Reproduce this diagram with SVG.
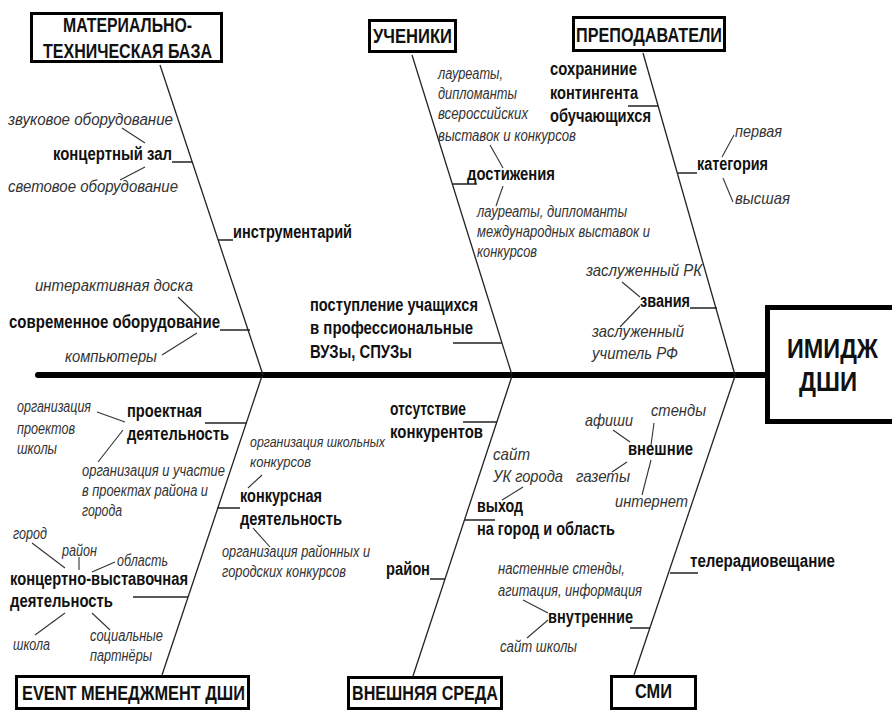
<svg xmlns="http://www.w3.org/2000/svg" width="892" height="711" viewBox="0 0 892 711">
<style>
text{font-family:"Liberation Sans",Arial,sans-serif;fill:#111}
.title{font-weight:bold;font-size:20px}
.head{font-weight:bold;font-size:28px}
.b{font-weight:bold;font-size:18px}
.i{font-style:italic;font-size:16px;fill:#333}
.is{font-style:italic;font-size:14.5px;fill:#333}
.il{font-style:italic;font-size:17px;fill:#333}
.box{fill:#fff;stroke:#000;stroke-width:3}
.hbox{fill:#fff;stroke:#000;stroke-width:5}
.bone{stroke:#222;stroke-width:1.3;fill:none}
.tick{stroke:#222;stroke-width:1.5}
.leaf{stroke:#333;stroke-width:1.1}
.spine{stroke:#000;stroke-width:6;stroke-linecap:round}
</style>
<rect width="892" height="711" fill="#fff"/>
<g id="connectors">
<line class="spine" x1="38" y1="375" x2="768" y2="375"/>
<line class="bone" x1="160" y1="65" x2="263" y2="375"/>
<line class="bone" x1="412" y1="55" x2="512" y2="375"/>
<line class="bone" x1="643" y1="53" x2="735" y2="375"/>
<line class="bone" x1="262" y1="376" x2="162" y2="675"/>
<line class="bone" x1="512" y1="376" x2="413" y2="676"/>
<line class="bone" x1="735" y1="376" x2="634" y2="675"/>
<line class="tick" x1="172" y1="162" x2="192" y2="162"/>
<line class="tick" x1="218" y1="240" x2="233" y2="240"/>
<line class="tick" x1="220" y1="330" x2="250" y2="330"/>
<line class="tick" x1="453" y1="184" x2="477" y2="184"/>
<line class="tick" x1="453" y1="343" x2="502" y2="343"/>
<line class="tick" x1="628" y1="106" x2="658" y2="106"/>
<line class="tick" x1="678" y1="173" x2="697" y2="173"/>
<line class="tick" x1="690" y1="308" x2="717" y2="308"/>
<line class="tick" x1="205" y1="423" x2="247" y2="423"/>
<line class="tick" x1="217" y1="508" x2="240" y2="508"/>
<line class="tick" x1="133" y1="597" x2="188" y2="597"/>
<line class="tick" x1="463" y1="422" x2="497" y2="422"/>
<line class="tick" x1="465" y1="520" x2="495" y2="520"/>
<line class="tick" x1="430" y1="579" x2="445" y2="579"/>
<line class="tick" x1="670" y1="573" x2="698" y2="573"/>
<line class="tick" x1="630" y1="628" x2="650" y2="628"/>
<line class="leaf" x1="122" y1="128" x2="145" y2="143"/>
<line class="leaf" x1="145" y1="167" x2="120" y2="180"/>
<line class="leaf" x1="178" y1="297" x2="200" y2="318"/>
<line class="leaf" x1="197" y1="333" x2="162" y2="355"/>
<line class="leaf" x1="490" y1="145" x2="503" y2="168"/>
<line class="leaf" x1="503" y1="186" x2="496" y2="206"/>
<line class="leaf" x1="734" y1="135" x2="722" y2="157"/>
<line class="leaf" x1="723" y1="178" x2="733" y2="202"/>
<line class="leaf" x1="622" y1="282" x2="640" y2="297"/>
<line class="leaf" x1="640" y1="306" x2="620" y2="327"/>
<line class="leaf" x1="97" y1="412" x2="125" y2="422"/>
<line class="leaf" x1="123" y1="430" x2="98" y2="462"/>
<line class="leaf" x1="262" y1="475" x2="248" y2="488"/>
<line class="leaf" x1="253" y1="528" x2="270" y2="547"/>
<line class="leaf" x1="32" y1="543" x2="65" y2="568"/>
<line class="leaf" x1="79" y1="557" x2="79" y2="570"/>
<line class="leaf" x1="115" y1="562" x2="92" y2="572"/>
<line class="leaf" x1="65" y1="613" x2="35" y2="635"/>
<line class="leaf" x1="92" y1="613" x2="110" y2="630"/>
<line class="leaf" x1="523" y1="487" x2="502" y2="500"/>
<line class="leaf" x1="613" y1="430" x2="630" y2="442"/>
<line class="leaf" x1="654" y1="423" x2="651" y2="445"/>
<line class="leaf" x1="627" y1="462" x2="612" y2="472"/>
<line class="leaf" x1="651" y1="460" x2="642" y2="495"/>
<line class="leaf" x1="523" y1="600" x2="548" y2="613"/>
<line class="leaf" x1="548" y1="620" x2="527" y2="638"/>
</g>
<g id="head">
<rect class="hbox" x="767.5" y="307.5" width="140" height="114"/>
<text class="head" x="787" y="358" textLength="91" lengthAdjust="spacingAndGlyphs">ИМИДЖ</text>
<text class="head" x="799" y="391" textLength="58" lengthAdjust="spacingAndGlyphs">ДШИ</text>
</g>
<g id="cat-mtb">
<rect class="box" x="31.5" y="13.5" width="190" height="48"/>
<text class="title" x="63" y="32" textLength="129" lengthAdjust="spacingAndGlyphs">МАТЕРИАЛЬНО-</text>
<text class="title" x="43" y="58" textLength="169" lengthAdjust="spacingAndGlyphs">ТЕХНИЧЕСКАЯ БАЗА</text>
</g>
<g id="cat-students">
<rect class="box" x="369.5" y="20.5" width="86" height="31"/>
<text class="title" x="373" y="43" textLength="79" lengthAdjust="spacingAndGlyphs">УЧЕНИКИ</text>
</g>
<g id="cat-teachers">
<rect class="box" x="573.5" y="17.5" width="151" height="33"/>
<text class="title" x="576" y="42" textLength="146" lengthAdjust="spacingAndGlyphs">ПРЕПОДАВАТЕЛИ</text>
</g>
<g id="cat-event">
<rect class="box" x="16.5" y="676.5" width="232" height="32"/>
<text class="title" x="22" y="700" textLength="223" lengthAdjust="spacingAndGlyphs">EVENT МЕНЕДЖМЕНТ ДШИ</text>
</g>
<g id="cat-env">
<rect class="box" x="348.5" y="677.5" width="153" height="31"/>
<text class="title" x="352" y="700" textLength="146" lengthAdjust="spacingAndGlyphs">ВНЕШНЯЯ СРЕДА</text>
</g>
<g id="cat-media">
<rect class="box" x="611.5" y="676.5" width="84" height="32"/>
<text class="title" x="635" y="698" textLength="37" lengthAdjust="spacingAndGlyphs">СМИ</text>
</g>
<g id="concert-hall">
<text class="b" x="53" y="160" textLength="119" lengthAdjust="spacingAndGlyphs">концертный зал</text>
<text class="i" x="8" y="125" textLength="165" lengthAdjust="spacingAndGlyphs">звуковое оборудование</text>
<text class="i" x="8" y="192" textLength="170" lengthAdjust="spacingAndGlyphs">световое оборудование</text>
</g>
<g id="instruments">
<text class="b" x="233" y="238" textLength="119" lengthAdjust="spacingAndGlyphs">инструментарий</text>
</g>
<g id="modern-equipment">
<text class="b" x="9" y="328" textLength="211" lengthAdjust="spacingAndGlyphs">современное оборудование</text>
<text class="i" x="35" y="291" textLength="158" lengthAdjust="spacingAndGlyphs">интерактивная доска</text>
<text class="i" x="65" y="362" textLength="92" lengthAdjust="spacingAndGlyphs">компьютеры</text>
</g>
<g id="achievements">
<text class="i" x="438" y="79" textLength="65" lengthAdjust="spacingAndGlyphs">лауреаты,</text>
<text class="i" x="438" y="99" textLength="79" lengthAdjust="spacingAndGlyphs">дипломанты</text>
<text class="i" x="438" y="119" textLength="90" lengthAdjust="spacingAndGlyphs">всероссийских</text>
<text class="i" x="438" y="141" textLength="138" lengthAdjust="spacingAndGlyphs">выставок и конкурсов</text>
<text class="b" x="467" y="180" textLength="88" lengthAdjust="spacingAndGlyphs">достижения</text>
<text class="i" x="477" y="217" textLength="150" lengthAdjust="spacingAndGlyphs">лауреаты, дипломанты</text>
<text class="i" x="477" y="237" textLength="173" lengthAdjust="spacingAndGlyphs">международных выставок и</text>
<text class="i" x="477" y="257" textLength="60" lengthAdjust="spacingAndGlyphs">конкурсов</text>
</g>
<g id="admission">
<text class="b" x="310" y="311" textLength="168" lengthAdjust="spacingAndGlyphs">поступление учащихся</text>
<text class="b" x="310" y="334" textLength="163" lengthAdjust="spacingAndGlyphs">в профессиональные</text>
<text class="b" x="310" y="358" textLength="102" lengthAdjust="spacingAndGlyphs">ВУЗы, СПУЗы</text>
</g>
<g id="retention">
<text class="b" x="550" y="75" textLength="87" lengthAdjust="spacingAndGlyphs">сохраниние</text>
<text class="b" x="550" y="99" textLength="88" lengthAdjust="spacingAndGlyphs">контингента</text>
<text class="b" x="550" y="122" textLength="101" lengthAdjust="spacingAndGlyphs">обучающихся</text>
</g>
<g id="category">
<text class="b" x="697" y="170" textLength="71" lengthAdjust="spacingAndGlyphs">категория</text>
<text class="il" x="735" y="137" textLength="47" lengthAdjust="spacingAndGlyphs">первая</text>
<text class="il" x="735" y="204" textLength="55" lengthAdjust="spacingAndGlyphs">высшая</text>
</g>
<g id="titles">
<text class="b" x="640" y="307" textLength="50" lengthAdjust="spacingAndGlyphs">звания</text>
<text class="il" x="586" y="276" textLength="116" lengthAdjust="spacingAndGlyphs">заслуженный РК</text>
<text class="il" x="592" y="337" textLength="92" lengthAdjust="spacingAndGlyphs">заслуженный</text>
<text class="il" x="592" y="359" textLength="86" lengthAdjust="spacingAndGlyphs">учитель РФ</text>
</g>
<g id="project-activity">
<text class="b" x="127" y="417" textLength="75" lengthAdjust="spacingAndGlyphs">проектная</text>
<text class="b" x="127" y="440" textLength="102" lengthAdjust="spacingAndGlyphs">деятельность</text>
<text class="i" x="17" y="412" textLength="74" lengthAdjust="spacingAndGlyphs">организация</text>
<text class="i" x="17" y="434" textLength="58" lengthAdjust="spacingAndGlyphs">проектов</text>
<text class="i" x="17" y="454" textLength="40" lengthAdjust="spacingAndGlyphs">школы</text>
<text class="i" x="82" y="476" textLength="143" lengthAdjust="spacingAndGlyphs">организация и участие</text>
<text class="i" x="82" y="496" textLength="126" lengthAdjust="spacingAndGlyphs">в проектах района и</text>
<text class="i" x="82" y="516" textLength="40" lengthAdjust="spacingAndGlyphs">города</text>
</g>
<g id="contest-activity">
<text class="is" x="250" y="447" textLength="135" lengthAdjust="spacingAndGlyphs">организация школьных</text>
<text class="is" x="250" y="467" textLength="61" lengthAdjust="spacingAndGlyphs">конкурсов</text>
<text class="b" x="240" y="502" textLength="82" lengthAdjust="spacingAndGlyphs">конкурсная</text>
<text class="b" x="240" y="525" textLength="102" lengthAdjust="spacingAndGlyphs">деятельность</text>
<text class="i" x="222" y="557" textLength="148" lengthAdjust="spacingAndGlyphs">организация районных и</text>
<text class="i" x="222" y="577" textLength="124" lengthAdjust="spacingAndGlyphs">городских конкурсов</text>
</g>
<g id="concert-activity">
<text class="i" x="13" y="539" textLength="34" lengthAdjust="spacingAndGlyphs">город</text>
<text class="i" x="62" y="556" textLength="35" lengthAdjust="spacingAndGlyphs">район</text>
<text class="i" x="117" y="566" textLength="51" lengthAdjust="spacingAndGlyphs">область</text>
<text class="b" x="10" y="585" textLength="178" lengthAdjust="spacingAndGlyphs">концертно-выставочная</text>
<text class="b" x="10" y="607" textLength="103" lengthAdjust="spacingAndGlyphs">деятельность</text>
<text class="i" x="13" y="650" textLength="37" lengthAdjust="spacingAndGlyphs">школа</text>
<text class="i" x="90" y="641" textLength="73" lengthAdjust="spacingAndGlyphs">социальные</text>
<text class="i" x="90" y="661" textLength="62" lengthAdjust="spacingAndGlyphs">партнёры</text>
</g>
<g id="no-competitors">
<text class="b" x="390" y="415" textLength="76" lengthAdjust="spacingAndGlyphs">отсутствие</text>
<text class="b" x="390" y="438" textLength="93" lengthAdjust="spacingAndGlyphs">конкурентов</text>
</g>
<g id="city-region">
<text class="il" x="493" y="460" textLength="37" lengthAdjust="spacingAndGlyphs">сайт</text>
<text class="il" x="493" y="482" textLength="70" lengthAdjust="spacingAndGlyphs">УК города</text>
<text class="b" x="477" y="512" textLength="46" lengthAdjust="spacingAndGlyphs">выход</text>
<text class="b" x="477" y="535" textLength="138" lengthAdjust="spacingAndGlyphs">на город и область</text>
</g>
<g id="district">
<text class="b" x="386" y="575" textLength="44" lengthAdjust="spacingAndGlyphs">район</text>
</g>
<g id="external-media">
<text class="il" x="651" y="416" textLength="55" lengthAdjust="spacingAndGlyphs">стенды</text>
<text class="il" x="585" y="426" textLength="48" lengthAdjust="spacingAndGlyphs">афиши</text>
<text class="b" x="628" y="455" textLength="65" lengthAdjust="spacingAndGlyphs">внешние</text>
<text class="il" x="576" y="482" textLength="54" lengthAdjust="spacingAndGlyphs">газеты</text>
<text class="il" x="615" y="507" textLength="73" lengthAdjust="spacingAndGlyphs">интернет</text>
</g>
<g id="broadcasting">
<text class="b" x="690" y="567" textLength="145" lengthAdjust="spacingAndGlyphs">телерадиовещание</text>
</g>
<g id="internal-media">
<text class="i" x="498" y="574" textLength="127" lengthAdjust="spacingAndGlyphs">настенные стенды,</text>
<text class="i" x="498" y="596" textLength="144" lengthAdjust="spacingAndGlyphs">агитация, информация</text>
<text class="b" x="548" y="623" textLength="85" lengthAdjust="spacingAndGlyphs">внутренние</text>
<text class="i" x="500" y="652" textLength="77" lengthAdjust="spacingAndGlyphs">сайт школы</text>
</g>
</svg>
